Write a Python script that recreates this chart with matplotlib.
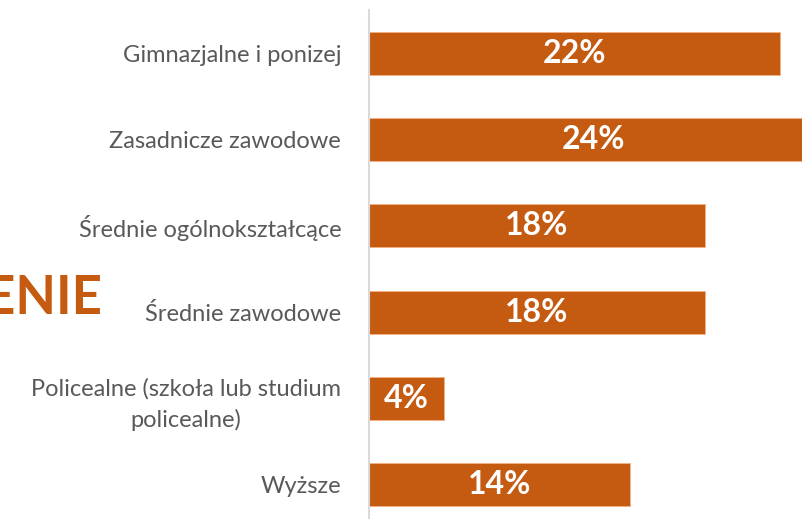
import matplotlib
matplotlib.use("Agg")
import matplotlib.pyplot as plt

categories = ["Gimnazjalne i ponizej", "Zasadnicze zawodowe", "Średnie ogólnokształcące",
              "Średnie zawodowe", "Policealne (szkoła lub studium\npolicealne)", "Wyższe"]
values = [22, 24, 18, 18, 4, 14]
value_labels = ["22%", "24%", "18%", "18%", "4%", "14%"]
title_text = "WYKSZTAŁCENIE"

color = "#C55A11"
W, H = 802, 519
fig = plt.figure(figsize=(W / 100, H / 100), dpi=100)
plt.rcParams['font.family'] = ['Lato', 'DejaVu Sans']

left = 369 / W
ax_top_px = 10
ax_bot_px = 528
ax = fig.add_axes([left, (H - ax_bot_px) / H, (W - 369) / W, (ax_bot_px - ax_top_px) / H])
ys = list(range(len(categories)))
ax.barh(ys, values, height=0.5, color=color, edgecolor="#F4B183", linewidth=0.6)
ax.set_xlim(0, (W - 369) / 18.67)
ax.set_ylim(len(categories) - 0.5 + 0.005, -0.505)
for s in ["top", "right", "bottom"]:
    ax.spines[s].set_visible(False)
ax.spines["left"].set_color("#D9D9D9")
ax.spines["left"].set_linewidth(1.5)
ax.set_xticks([])
ax.set_yticks(ys)
ax.set_yticklabels(categories, fontsize=17, color="#595959", multialignment="center",
                   linespacing=1.5)
ax.tick_params(axis="y", length=0, pad=20)

for y, v, lab in zip(ys, values, value_labels):
    ax.text(v / 2, y, lab, ha="center", va="center", color="white",
            fontsize=23, fontweight="bold")

fig.text(103 / W, 1 - 299 / H, title_text, ha="right", va="center", color=color,
         fontsize=38, fontweight="bold")

fig.savefig("out.png", dpi=100)
